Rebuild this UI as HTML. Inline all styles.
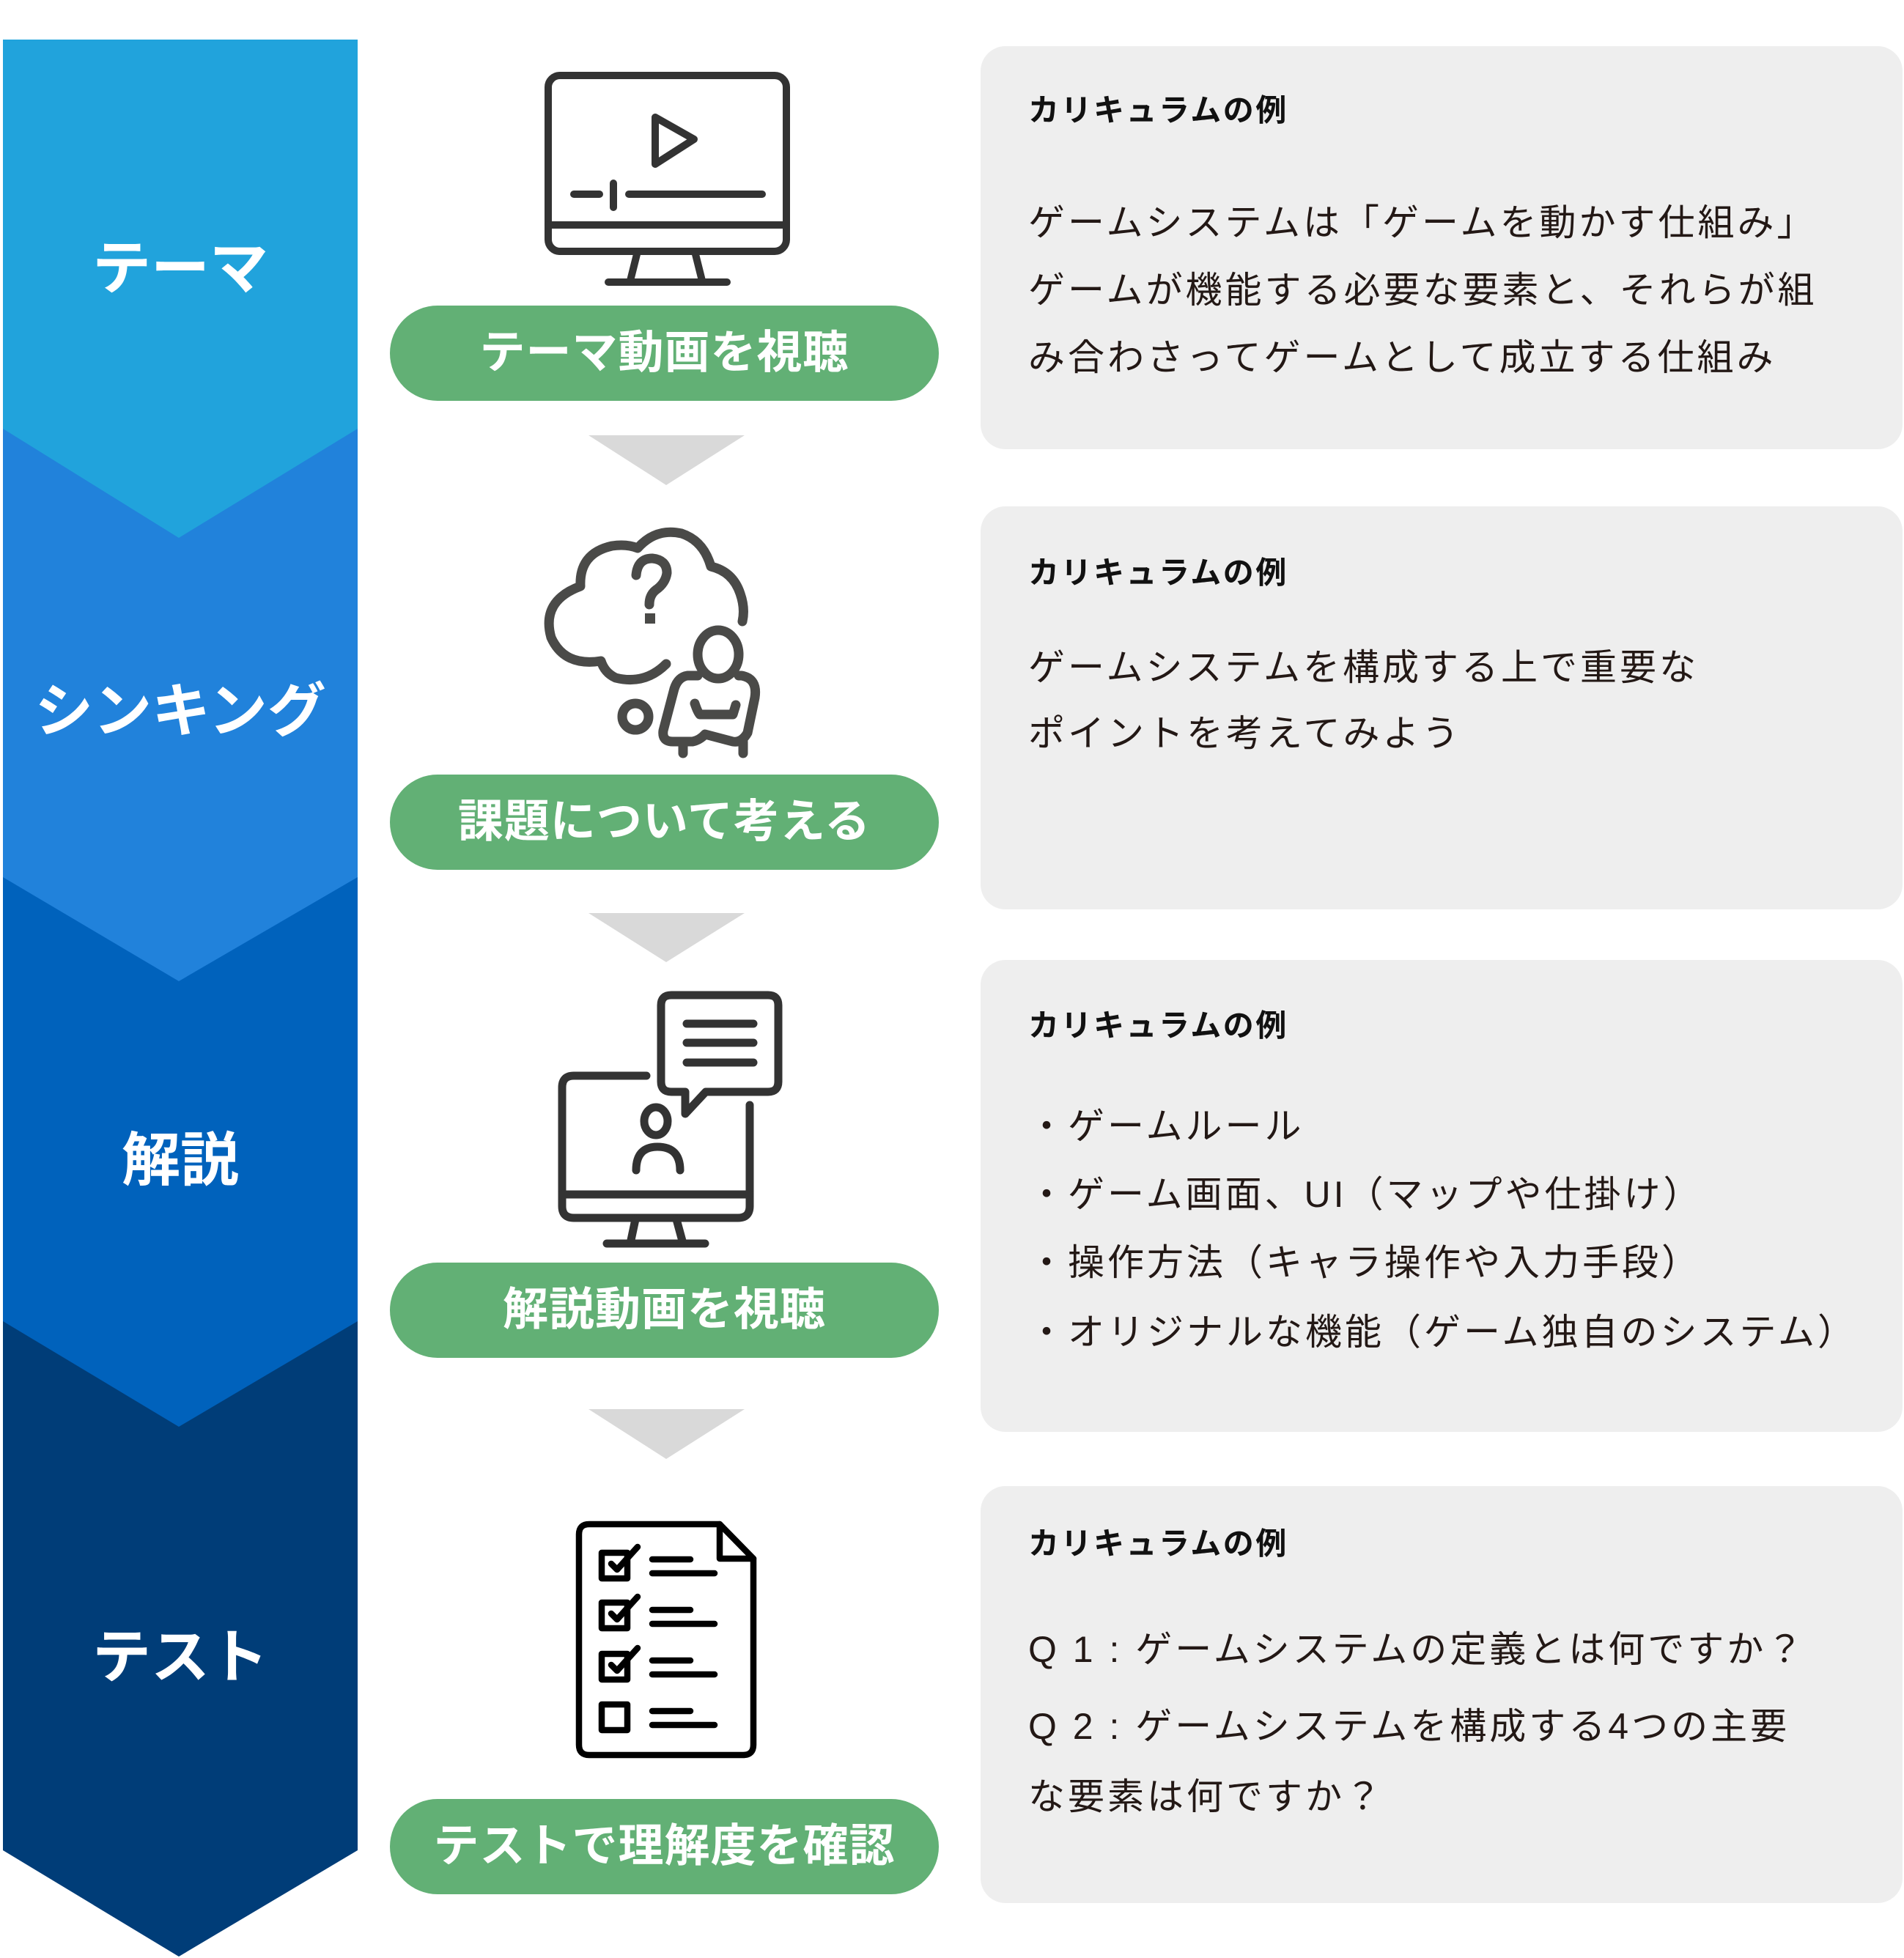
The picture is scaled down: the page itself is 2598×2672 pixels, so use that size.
<!DOCTYPE html>
<html><head><meta charset="utf-8">
<style>
html,body{margin:0;padding:0;background:#fff}
body{width:2598px;height:2672px;position:relative;overflow:hidden;font-family:"Liberation Sans","Noto Sans CJK JP",sans-serif}
.lbl{position:absolute;left:4px;width:484px;text-align:center;color:#fff;font-weight:bold;font-size:80px;line-height:1}
.btn{position:absolute;left:532px;width:749px;height:130px;border-radius:65px;background:#62b075;color:#fff;font-weight:bold;font-size:62px;line-height:130px;text-align:center;letter-spacing:1px}
.box{position:absolute;left:1338px;width:1258px;background:#eeeeee;border-radius:34px}
.t{position:absolute;left:1403px;color:#231815;white-space:nowrap;line-height:1}
.h{font-size:42px;font-weight:bold;color:#111;letter-spacing:2.5px}
.b{font-size:50px;letter-spacing:4px}
</style></head><body>
<svg width="2598" height="2672" style="position:absolute;left:0;top:0">
  <polygon points="4,1803 488,1803 488,2525 244,2670 4,2525" fill="#003d78"/>
  <polygon points="4,1197 488,1197 488,1803 244,1947 4,1803" fill="#0062bc"/>
  <polygon points="4,585 488,585 488,1197 244,1339 4,1197" fill="#2182db"/>
  <polygon points="4,54 488,54 488,585 244,734 4,585" fill="#21a3dc"/>
  <polygon points="803,594 1016,594 909,662" fill="#d9d9d9"/>
  <polygon points="803,1246 1016,1246 909,1313" fill="#d9d9d9"/>
  <polygon points="803,1923 1016,1923 909,1991" fill="#d9d9d9"/>
  <g fill="none" stroke="#333" stroke-width="10" stroke-linecap="round" stroke-linejoin="round">
    <rect x="748" y="103" width="325" height="240" rx="16"/>
    <line x1="748" y1="307" x2="1073" y2="307"/>
    <line x1="870" y1="343" x2="860" y2="383"/><line x1="948" y1="343" x2="958" y2="383"/>
    <line x1="830" y1="385" x2="992" y2="385"/>
    <polygon points="894,160 947,190 894,224"/>
    <line x1="783" y1="265" x2="818" y2="265"/><line x1="837" y1="250" x2="837" y2="283"/><line x1="858" y1="265" x2="1040" y2="265"/>
  </g>
  <g fill="none" stroke="#4a4a48" stroke-width="13" stroke-linecap="round" stroke-linejoin="round">
    <path d="M909,906 Q880,935 840,925 Q825,918 820,902 Q770,910 752,870 Q738,820 792,800 Q790,755 835,745 Q855,742 870,748 Q895,720 930,728 Q960,738 970,773 Q1000,780 1010,810 Q1017,830 1013,848"/>
    <path d="M868,785 Q870,762 890,762 Q910,764 910,782 Q908,796 895,805 Q886,812 886,825"/>
    <ellipse cx="980" cy="893" rx="28" ry="33"/>
    <path d="M952,922 L938,922 Q925,924 920,940 L905,997 Q903,1012 918,1012 L945,1012 Q955,1010 962,1002 L1000,1012 Q1012,1014 1020,1000 L1030,952 Q1034,926 1012,922 L1008,922"/>
    <path d="M948,960 Q952,972 955,975 L1000,975 L1004,962"/>
    <line x1="932" y1="1012" x2="932" y2="1028"/><line x1="1014" y1="1012" x2="1014" y2="1028"/>
    <circle cx="867" cy="978" r="18"/>
  </g>
  <rect x="880" y="837" width="14" height="14" fill="#4a4a48"/>
  <g fill="none" stroke="#333" stroke-width="11" stroke-linecap="round" stroke-linejoin="round">
    <path d="M882,1468 L783,1468 Q767,1468 767,1484 L767,1646 Q767,1662 783,1662 L1007,1662 Q1023,1662 1023,1646 L1023,1508"/>
    <line x1="767" y1="1630" x2="1023" y2="1630"/>
    <line x1="867" y1="1664" x2="860" y2="1697"/><line x1="923" y1="1664" x2="932" y2="1697"/>
    <line x1="828" y1="1697" x2="962" y2="1697"/>
    <path d="M935,1490 L916,1490 Q902,1490 902,1476 L902,1372 Q902,1358 916,1358 L1048,1358 Q1062,1358 1062,1372 L1062,1476 Q1062,1490 1048,1490 L963,1490 L935,1520 Z"/>
    <line x1="937" y1="1397" x2="1028" y2="1397"/><line x1="937" y1="1423" x2="1028" y2="1423"/><line x1="937" y1="1450" x2="1028" y2="1450"/>
    <ellipse cx="895" cy="1530" rx="16" ry="19"/>
    <path d="M868,1597 Q868,1565 897,1565 Q928,1565 928,1597"/>
  </g>
  <g fill="none" stroke="#000" stroke-width="8.5" stroke-linecap="round" stroke-linejoin="round">
    <path d="M982,2080 L804,2080 Q790,2080 790,2094 L790,2381 Q790,2395 804,2395 L1014,2395 Q1028,2395 1028,2381 L1028,2127 Z"/>
    <path d="M982,2080 L982,2127 L1028,2127"/>
    <rect x="821" y="2119" width="35" height="35"/>
    <rect x="821" y="2187" width="35" height="35"/>
    <rect x="821" y="2257" width="35" height="35"/>
    <rect x="821" y="2326" width="35" height="35"/>
    <path d="M834,2134 L842,2142 L870,2111"/>
    <path d="M834,2202 L842,2210 L870,2179"/>
    <path d="M834,2272 L842,2280 L870,2249"/>
    <line x1="890" y1="2128" x2="942" y2="2128"/><line x1="890" y1="2147" x2="975" y2="2147"/>
    <line x1="890" y1="2197" x2="942" y2="2197"/><line x1="890" y1="2216" x2="975" y2="2216"/>
    <line x1="890" y1="2266" x2="942" y2="2266"/><line x1="890" y1="2285" x2="975" y2="2285"/>
    <line x1="890" y1="2335" x2="942" y2="2335"/><line x1="890" y1="2354" x2="975" y2="2354"/>
  </g>
</svg>
<div class="lbl" style="top:327px">テーマ</div>
<div class="lbl" style="top:931px">シンキング</div>
<div class="lbl" style="top:1544px">解説</div>
<div class="lbl" style="top:2222px">テスト</div>

<div class="btn" style="top:417px">テーマ動画を視聴</div>
<div class="btn" style="top:1057px">課題について考える</div>
<div class="btn" style="top:1723px">解説動画を視聴</div>
<div class="btn" style="top:2455px">テストで理解度を確認</div>

<div class="box" style="top:63px;height:550px"></div>
<div class="box" style="top:691px;height:550px"></div>
<div class="box" style="top:1310px;height:644px"></div>
<div class="box" style="top:2028px;height:569px"></div>

<div class="t h" style="top:130px">カリキュラムの例</div>
<div class="t b" style="top:279px">ゲームシステムは「ゲームを動かす仕組み」</div>
<div class="t b" style="top:371px">ゲームが機能する必要な要素と、それらが組</div>
<div class="t b" style="top:463px">み合わさってゲームとして成立する仕組み</div>

<div class="t h" style="top:761px">カリキュラムの例</div>
<div class="t b" style="top:886px">ゲームシステムを構成する上で重要な</div>
<div class="t b" style="top:976px">ポイントを考えてみよう</div>

<div class="t h" style="top:1379px">カリキュラムの例</div>
<div class="t b" style="top:1512px">・ゲームルール</div>
<div class="t b" style="top:1605px">・ゲーム画面、UI（マップや仕掛け）</div>
<div class="t b" style="top:1698px">・操作方法（キャラ操作や入力手段）</div>
<div class="t b" style="top:1793px">・オリジナルな機能（ゲーム独自のシステム）</div>

<div class="t h" style="top:2086px">カリキュラムの例</div>
<div class="t b" style="top:2226px">Q 1 : ゲームシステムの定義とは何ですか？</div>
<div class="t b" style="top:2331px">Q 2 : ゲームシステムを構成する4つの主要</div>
<div class="t b" style="top:2427px">な要素は何ですか？</div>
</body></html>
